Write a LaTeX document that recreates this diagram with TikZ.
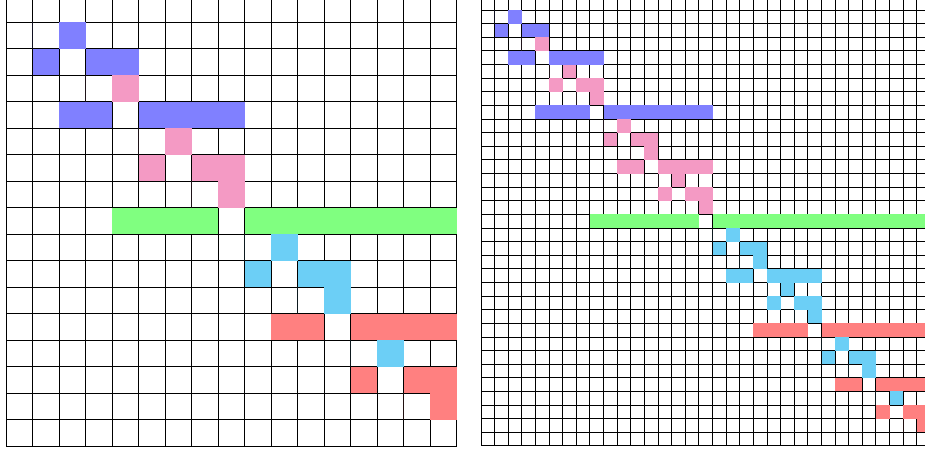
\documentclass[tikz,border=0pt]{standalone}
\usepackage{tikz}

\definecolor{cellblue}{RGB}{128,128,255}
\definecolor{cellpink}{RGB}{244,154,196}
\definecolor{cellgreen}{RGB}{128,255,128}
\definecolor{cellsky}{RGB}{108,207,246}
\definecolor{cellred}{RGB}{255,128,128}

\begin{document}
\begin{tikzpicture}[
  x=0.5pt,
  y=0.5pt,
  gridline/.style={draw=black,line width=0.5pt}
]
\useasboundingbox (0,0) rectangle (925,452);
\fill[white] (0,0) rectangle (925,452);
\clip (0,0) rectangle (925,452);

% Left board, 17 x 17 cells; row i covers i-p/2..i-1 and i+1..i+p.
\begin{scope}[shift={(6,456.5)},x=13.25pt,y=-13.25pt]
  \foreach \k in {0,...,17} {
    \draw[gridline] (\k,0) -- (\k,17);
    \draw[gridline] (0,\k) -- (17,\k);
  }
  \foreach \i/\p/\col in {1/1/cellblue,2/2/cellblue,3/1/cellpink,4/4/cellblue,
      5/1/cellpink,6/2/cellpink,7/1/cellpink,8/8/cellgreen,
      9/1/cellsky,10/2/cellsky,11/1/cellsky,12/4/cellred,
      13/1/cellsky,14/2/cellred,15/1/cellred} {
    \pgfmathtruncatemacro{\h}{\p/2}
    \fill[\col] (\i-\h,\i) rectangle (\i,\i+1);
    \fill[\col] (\i+1,\i) rectangle (\i+\p+1,\i+1);
  }
\end{scope}

% Right board, 33 x 33 cells.
\begin{scope}[shift={(481,455.5)},x=6.81pt,y=-6.81pt]
  \foreach \k in {0,...,33} {
    \draw[gridline] (\k,0) -- (\k,33);
    \draw[gridline] (0,\k) -- (33,\k);
  }
  \foreach \i/\p/\col in {1/1/cellblue,2/2/cellblue,3/1/cellpink,4/4/cellblue,
      5/1/cellpink,6/2/cellpink,7/1/cellpink,8/8/cellblue,
      9/1/cellpink,10/2/cellpink,11/1/cellpink,12/4/cellpink,
      13/1/cellpink,14/2/cellpink,15/1/cellpink,16/16/cellgreen,
      17/1/cellsky,18/2/cellsky,19/1/cellsky,20/4/cellsky,
      21/1/cellsky,22/2/cellsky,23/1/cellsky,24/8/cellred,
      25/1/cellsky,26/2/cellsky,27/1/cellsky,28/4/cellred,
      29/1/cellsky,30/2/cellred,31/1/cellred} {
    \pgfmathtruncatemacro{\h}{\p/2}
    \fill[\col] (\i-\h,\i) rectangle (\i,\i+1);
    \fill[\col] (\i+1,\i) rectangle (\i+\p+1,\i+1);
  }
\end{scope}
\end{tikzpicture}
\end{document}
